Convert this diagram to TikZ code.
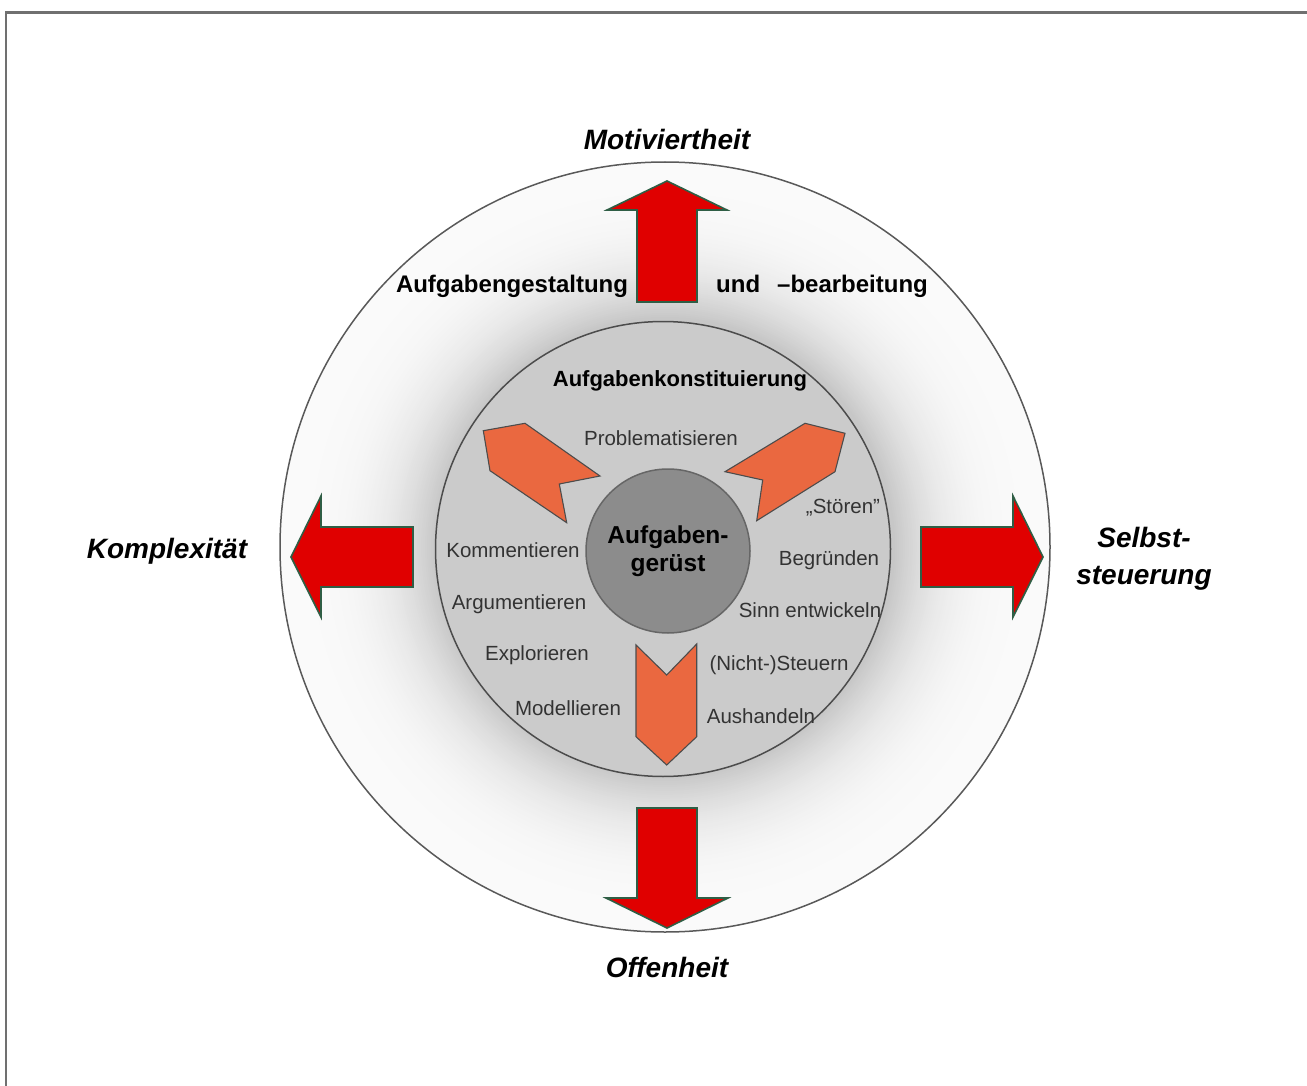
\documentclass[tikz,border=0pt]{standalone}
\usepackage{fontspec}
\setmainfont{Liberation Sans}
\definecolor{redA}{HTML}{E00000}
\definecolor{redEdge}{HTML}{2F5E45}
\definecolor{orangeA}{HTML}{EA6840}
\definecolor{innerGray}{HTML}{CBCBCB}
\definecolor{coreGray}{HTML}{8C8C8C}
\definecolor{txtGray}{HTML}{333333}
\definecolor{frameGray}{HTML}{707070}
\begin{document}
\begin{tikzpicture}[x=1pt,y=-1pt,
  redarrow/.style={fill=redA,draw=redEdge,line width=1.6pt,line join=miter},
  orangeshape/.style={fill=orangeA,draw=black!70,line width=1.1pt,line join=miter},
  biglabel/.style={font=\bfseries\itshape\fontsize{28}{37}\selectfont,align=center,inner sep=0pt},
  midlabel/.style={font=\bfseries\fontsize{24}{28}\selectfont,inner sep=0pt},
  verb/.style={font=\fontsize{20.5}{24}\selectfont,text=txtGray,inner sep=0pt}]
\useasboundingbox (0,0) rectangle (1307,1086);
% frame (left and top)
\draw[frameGray,line width=2.8pt] (6,1086) -- (6,12.5) -- (1307,12.5);
% halo between circles
\foreach \i in {0,...,79}{
  \pgfmathsetmacro\rr{385-\i*157/80}
  \pgfmathsetmacro\pp{2+20*(\i/79)^3}
  \fill[black!\pp!white] (665,547) circle (\rr);
}
\node[circle,draw=black!65,line width=1.5pt,minimum size=770pt,inner sep=0pt] (outer) at (665,547) {};
\node[circle,draw=black!70,line width=1.5pt,fill=innerGray,minimum size=455pt,inner sep=0pt] (inner) at (663,549) {};
\node[circle,draw=black!60,line width=1.5pt,fill=coreGray,minimum size=164pt,inner sep=0pt,
  font=\bfseries\fontsize{24.5}{28}\selectfont,align=center] (core) at (668,551) {Aufgaben-\\gerüst};
% red arrows
\draw[redarrow] (637,302) -- (637,210) -- (607,210) -- (667,181) -- (727,210) -- (697,210) -- (697,302) -- cycle;
\draw[redarrow] (637,808) -- (637,898) -- (606,898) -- (667,928) -- (728,898) -- (697,898) -- (697,808) -- cycle;
\draw[redarrow] (921,527) -- (1013,527) -- (1013,496) -- (1043,557) -- (1013,617) -- (1013,587) -- (921,587) -- cycle;
\draw[redarrow] (413,527) -- (321,527) -- (321,496) -- (291,557) -- (321,617) -- (321,587) -- (413,587) -- cycle;
% orange shapes
\draw[orangeshape] (483.3,430.7) -- (525,423.3) -- (600,476) -- (559.3,484) -- (566.7,522.7) -- (490,470.7) -- cycle;
\draw[orangeshape] (805,423.3) -- (845,433.3) -- (835,471.7) -- (756.7,520.7) -- (762.7,480) -- (725,471.7) -- cycle;
\draw[orangeshape] (636,645) -- (666.7,675) -- (696.7,644) -- (696.7,736.7) -- (666.7,765) -- (636,736.7) -- cycle;
% outer labels
\node[biglabel] (mot) at (667,139) {Motiviertheit};
\node[biglabel] (off) at (667,967) {Offenheit};
\node[biglabel] (kom) at (167,551) {Komplexität};
\node[biglabel] (sel) at (1144,559) {Selbst-\\steuerung};
\node[midlabel,anchor=base] (gest) at (512,293) {Aufgabengestaltung};
\node[midlabel,anchor=base west] (und) at (716,293) {und};
\node[midlabel,anchor=base west] (bearb) at (777,293) {–bearbeitung};
\node[font=\bfseries\fontsize{22}{26}\selectfont,inner sep=0pt] (konst) at (680,381) {Aufgabenkonstituierung};
% inner verbs
\node[verb] (v1) at (661,438) {Problematisieren};
\node[verb] (v2) at (843,508) {„Stören"};
\node[verb] (v3) at (513,550) {Kommentieren};
\node[verb] (v4) at (829,560) {Begründen};
\node[verb] (v5) at (519,604) {Argumentieren};
\node[verb] (v6) at (810,610) {Sinn entwickeln};
\node[verb] (v7) at (537,655) {Explorieren};
\node[verb] (v8) at (779,665) {(Nicht-)Steuern};
\node[verb] (v9) at (568,708) {Modellieren};
\node[verb] (v10) at (761,716) {Aushandeln};
\end{tikzpicture}
\end{document}
